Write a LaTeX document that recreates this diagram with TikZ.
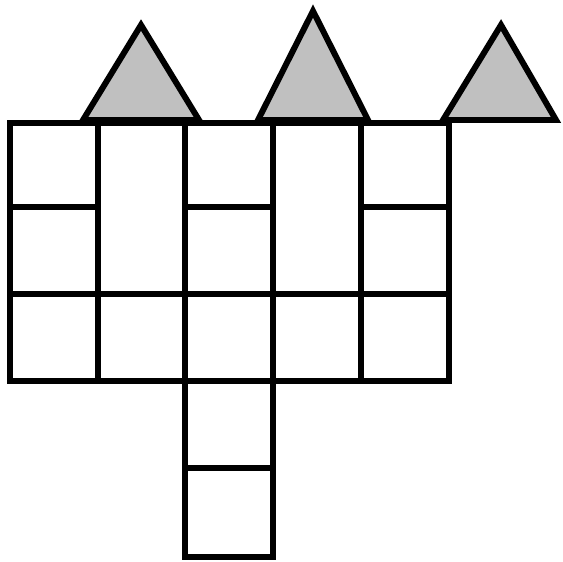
\documentclass[tikz,border=0pt]{standalone}
\usepackage{xcolor}
\usepackage{tikz}
\definecolor{roofgray}{HTML}{C0C0C0}

\begin{document}
\begin{tikzpicture}[
    x=0.02cm, y=-0.02cm,
    cell/.style = {draw=black, line width=3.4pt, line join=miter},
    roof/.style = {draw=black, fill=roofgray, line width=3.4pt, line join=miter}
]
\useasboundingbox (0,0) rectangle (563,561);

% square cells in columns 1, 3 and 5
\foreach \xa/\xb in {10/98, 185/273, 361/449}
  \foreach \ya/\yb in {123/207, 207/294, 294/381}
    \draw[cell] (\xa,\ya) rectangle (\xb,\yb);

% tall cells in columns 2 and 4, with a square below each
\foreach \xa/\xb in {98/185, 273/361} {
  \draw[cell] (\xa,123) rectangle (\xb,294);
  \draw[cell] (\xa,294) rectangle (\xb,381);
}

% the two cells hanging below column 3
\draw[cell] (185,381) rectangle (273,468);
\draw[cell] (185,468) rectangle (273,557);

% triangles on top
\draw[roof] (83,120) -- (141,25) -- (199,120) -- cycle;
\draw[roof] (258,120) -- (313,11) -- (368,120) -- cycle;
\draw[roof] (443,120) -- (501,25) -- (556,120) -- cycle;
\end{tikzpicture}
\end{document}
